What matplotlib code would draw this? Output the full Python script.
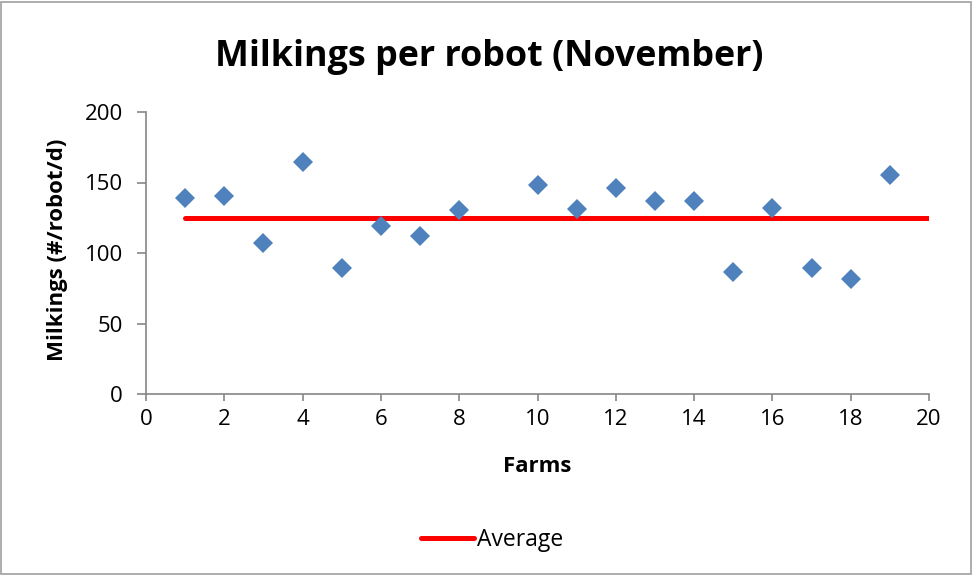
import matplotlib
matplotlib.use("Agg")
import matplotlib.pyplot as plt
from matplotlib.lines import Line2D

farms = [1, 2, 3, 4, 5, 6, 7, 8, 10, 11, 12, 13, 14, 15, 16, 17, 18, 19]
milkings = [138.8, 140.2, 107.3, 164.3, 89.1, 118.8, 112.1, 130.5, 148.0,
            131.0, 145.8, 136.6, 136.8, 86.3, 132.0, 89.4, 81.8, 155.6]
avg_x = [1, 20]
avg_value = 124.7
avg_y = [avg_value, avg_value]

title = "Milkings per robot (November)"
xlabel = "Farms"
ylabel = "Milkings (#/robot/d)"
legend_label = "Average"
xticks = [0, 2, 4, 6, 8, 10, 12, 14, 16, 18, 20]
yticks = [0, 50, 100, 150, 200]

plt.rcParams['font.family'] = ['Open Sans', 'DejaVu Sans']

W, H = 973, 575
fig = plt.figure(figsize=(W / 100, H / 100), dpi=100)
ax = fig.add_axes([146 / W, 1 - 394 / H, (929 - 146) / W, (394 - 112) / H])

ax.plot(avg_x, avg_y, color='#FF0000', lw=3.6, solid_capstyle='round', zorder=2)
ax.plot(farms, milkings, linestyle='none', marker='D', ms=10, color='#4F81BD',
        markeredgewidth=0, zorder=3)

ax.set_xlim(0, 20)
ax.set_ylim(0, 200)
ax.set_xticks(xticks)
ax.set_yticks(yticks)
for s in ['top', 'right']:
    ax.spines[s].set_visible(False)
for s in ['left', 'bottom']:
    ax.spines[s].set_color('#868686')
    ax.spines[s].set_linewidth(1.2)
ax.tick_params(direction='out', width=1.2, color='#868686',
               labelsize=16, labelcolor='black')
ax.tick_params(axis='x', length=5, pad=6)
ax.tick_params(axis='y', length=6.5, pad=10)

fig.text(537 / W, 1 - 467 / H, xlabel, fontsize=16, fontweight='bold',
         ha='center', va='center')
fig.text(58 / W, 1 - 250 / H, ylabel, fontsize=16, fontweight='bold',
         ha='center', va='center', rotation=90)

fig.text(489 / W, 1 - 57 / H, title, fontsize=25.8, fontweight='bold',
         ha='center', va='center')

handle = Line2D([0], [0], color='#FF0000', lw=3.6, solid_capstyle='round')
fig.legend([handle], [legend_label], loc='center', bbox_to_anchor=(492 / W, 1 - 540 / H),
           frameon=False, fontsize=16.5, handlelength=2.3, handletextpad=0.15)

border = plt.Rectangle((1 / W, 1 / H), (W - 3) / W, (H - 3) / H, transform=fig.transFigure,
                       fill=False, edgecolor='#A0A0A0', lw=1.2)
fig.patches.append(border)

fig.savefig("out.png", dpi=100)
